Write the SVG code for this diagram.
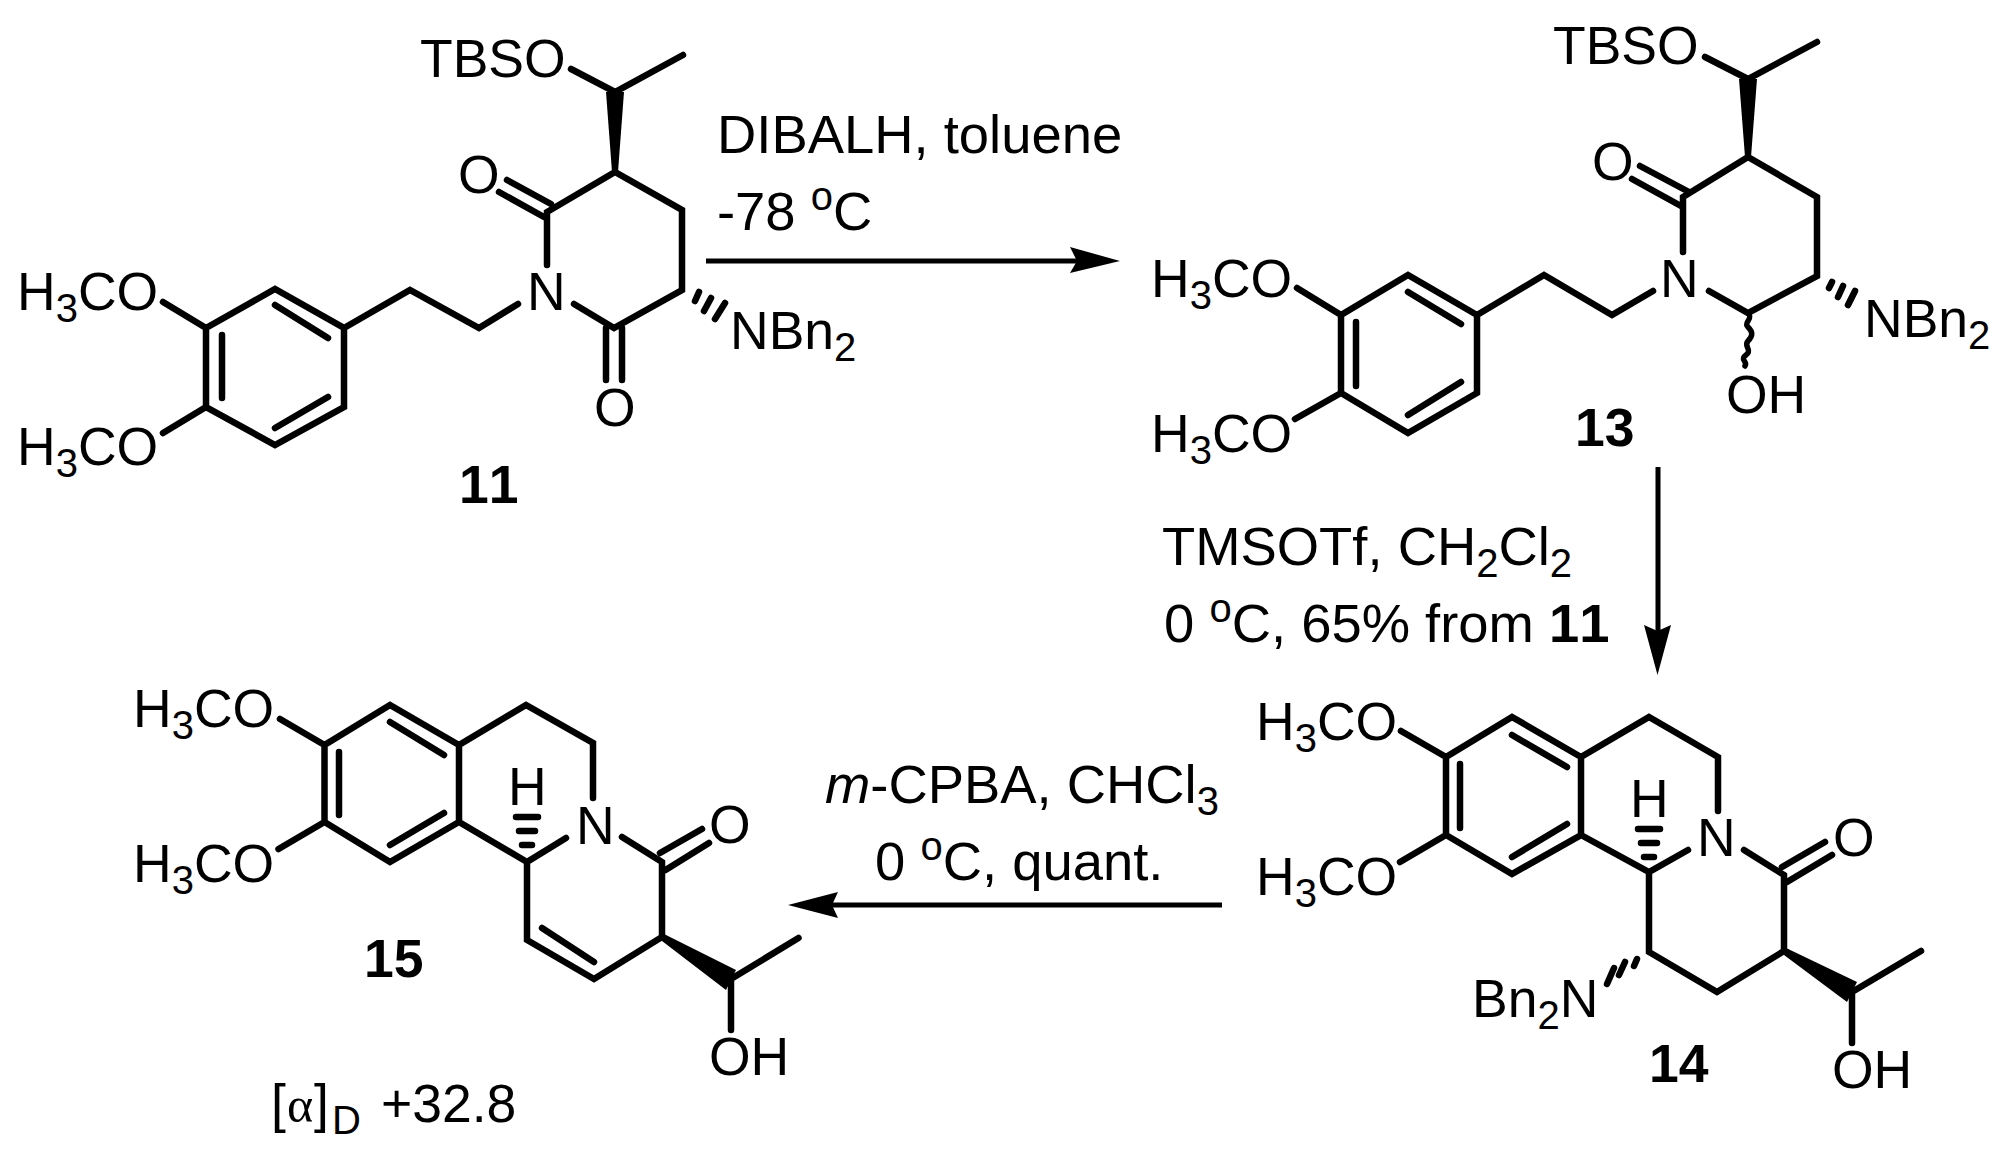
<svg xmlns="http://www.w3.org/2000/svg" width="2007" height="1150" viewBox="0 0 2007 1150">
<style>
text{font-family:"Liberation Sans",Arial,sans-serif;font-size:53.500px;fill:#000;font-kerning:none}
.b{font-weight:bold}
.i{font-style:italic}
.sub{font-size:40px}
.s{fill:none;stroke:#000;stroke-width:6.500;stroke-linecap:round;stroke-linejoin:miter}
.f{fill:#000;stroke:none}
.a{fill:none;stroke:#000;stroke-width:5}
.h{fill:none;stroke:#000;stroke-width:6.500;stroke-linecap:round}
.q{fill:none;stroke:#000;stroke-width:5.500;stroke-linecap:round}
.r{font-size:54.400px}
</style>
<rect width="2007" height="1150" fill="#fff"/>
<g id="compound-11">
<path class="s" d="M206 328L275 289L344 328V407L275 445L206 407ZM275 305L328 338M275 428L328 397M222 335V398M163 302L206 328M163 433L206 407M344 328L410 290L479 328L518 304M574 304L614 328L682 290V210L615 172L547 212V265M507 180L551 204M499 192L544 217M606 328V380M622 328V380M571 69L615 92L683 55"/>
<polygon class="f" points="606,92 624,92 618,172 612,172"/>
<path class="h" d="M695 301L699 292M704 311L711 298M715 319L725 303"/>
<text x="17" y="310">H<tspan class="sub" dy="12">3</tspan><tspan dy="-12">CO</tspan></text>
<text x="17" y="465">H<tspan class="sub" dy="12">3</tspan><tspan dy="-12">CO</tspan></text>
<text x="420" y="77">TBSO</text>
<text x="458" y="193">O</text>
<text x="527" y="310">N</text>
<text x="594" y="426">O</text>
<text x="730" y="349">NBn<tspan class="sub" dy="12">2</tspan></text>
<text class="b" x="459" y="503">11</text>
</g>
<g id="compound-13">
<path class="s" d="M1341 315L1408 275L1477 315V393L1408 433L1341 393ZM1408 292L1461 324M1408 415L1461 382M1356 322V386M1297 288L1341 315M1295 419L1341 393M1477 315L1544 275L1612 315L1653 291M1709 291L1748 313L1817 276V197L1748 157L1683 197V252M1640 166L1689 192M1632 179L1681 206M1705 57L1748 79L1817 42"/>
<polygon class="f" points="1739,79 1757,79 1751,157 1745,157"/>
<path class="h" d="M1829 288L1832 282M1838 297L1843 286M1848 305L1855 291"/>
<path class="q" d="M1748 313c6 6 -5 9 0 14s5 9 0 14s5 9 -2 14s2 6 -1 11"/>
<text x="1151" y="297">H<tspan class="sub" dy="12">3</tspan><tspan dy="-12">CO</tspan></text>
<text x="1151" y="452">H<tspan class="sub" dy="12">3</tspan><tspan dy="-12">CO</tspan></text>
<text x="1553" y="64">TBSO</text>
<text x="1592" y="180">O</text>
<text x="1660" y="297">N</text>
<text x="1864" y="337">NBn<tspan class="sub" dy="12">2</tspan></text>
<text x="1726" y="413">OH</text>
<text class="b" x="1575" y="446">13</text>
</g>
<g id="compound-14">
<path class="s" d="M1446 757L1512 717L1581 757V835L1512 874L1446 835ZM1512 735L1567 767M1512 857L1567 824M1460 764V828M1401 731L1446 757M1400 862L1446 835M1581 757L1649 717L1718 757V811M1581 835L1649 872L1688 850M1744 850L1784 875V951L1717 992L1649 952V872M1782 867L1825 842M1787 882L1832 855M1852 992L1921 951M1852 992V1043"/>
<polygon class="f" points="1784,947 1857,982 1847,1002 1784,955"/>
<path class="h" d="M1638 829H1660M1641 843H1657M1644 857H1654M1634 966L1637 959M1619 975L1625 962M1607 984L1614 968"/>
<text x="1256" y="740">H<tspan class="sub" dy="12">3</tspan><tspan dy="-12">CO</tspan></text>
<text x="1256" y="895">H<tspan class="sub" dy="12">3</tspan><tspan dy="-12">CO</tspan></text>
<text x="1630" y="817">H</text>
<text x="1697" y="856">N</text>
<text x="1833" y="856">O</text>
<text x="1472" y="1017">Bn<tspan class="sub" dy="12">2</tspan><tspan dy="-12">N</tspan></text>
<text x="1832" y="1088">OH</text>
<text class="b" x="1649" y="1082">14</text>
</g>
<g id="compound-15">
<path class="s" d="M324.500 745L390 705L459 745V822L390 862L324.500 822ZM390 722L444 755M390 845L444 813M339 752V815M280 719L324.500 745M278.500 849L324.500 822M459 745L526 705L593 743V798M459 822L527 862L566 838M622 837L662 862V937L594 979L527 940V862M542 928L594 962M660 853L702 829M665.500 870L709 843M731 979L798.500 938M731 979V1030"/>
<polygon class="f" points="662,933 736,970 726,990 662,941"/>
<path class="h" d="M516 817H538M519 831H535M522 845H532"/>
<text x="133" y="727">H<tspan class="sub" dy="12">3</tspan><tspan dy="-12">CO</tspan></text>
<text x="133" y="882">H<tspan class="sub" dy="12">3</tspan><tspan dy="-12">CO</tspan></text>
<text x="508" y="805">H</text>
<text x="576" y="844">N</text>
<text x="709" y="843">O</text>
<text x="709" y="1075">OH</text>
<text class="b" x="364" y="977">15</text>
<text x="271" y="1122">[</text>
<text x="287" y="1122" style="font-family:'Liberation Serif',serif;font-size:50px">α</text>
<text x="314" y="1122">]</text>
<text class="sub" x="332" y="1134">D</text>
<text x="381" y="1122">+32.8</text>
</g>
<g id="connectors">
<path class="a" d="M706 261H1085"/>
<polygon class="f" points="1120,261 1070,247 1077,261 1070,273"/>
<path class="a" d="M1658 467V645"/>
<polygon class="f" points="1657.500,675 1644,625 1657.500,631 1671,625"/>
<path class="a" d="M1222 905H820"/>
<polygon class="f" points="788,905 838,892 832,905 838,918"/>
</g>
<g id="labels">
<text class="r" x="717" y="153">DIBALH, toluene</text>
<text class="r" x="717" y="230">-78 <tspan class="sub" dy="-20">o</tspan><tspan dy="20">C</tspan></text>
<text class="r" x="1162" y="565">TMSOTf, CH<tspan class="sub" dy="12">2</tspan><tspan dy="-12">Cl</tspan><tspan class="sub" dy="12">2</tspan></text>
<text class="r" x="1164" y="642">0 <tspan class="sub" dy="-20">o</tspan><tspan dy="20">C, 65% from </tspan><tspan class="b">11</tspan></text>
<text class="r" x="825" y="803"><tspan class="i">m</tspan>-CPBA, CHCl<tspan class="sub" dy="12">3</tspan></text>
<text class="r" x="875" y="880">0 <tspan class="sub" dy="-20">o</tspan><tspan dy="20">C, quant.</tspan></text>
</g>
</svg>
